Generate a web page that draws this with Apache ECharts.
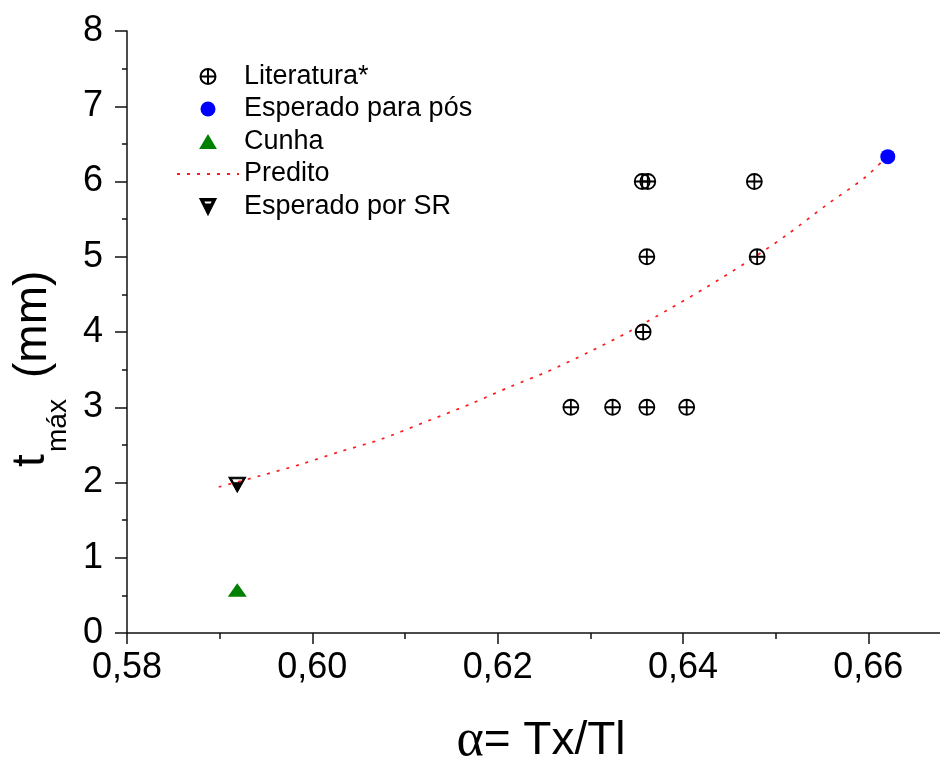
<!DOCTYPE html>
<html><head><meta charset="utf-8">
<script src="https://cdn.jsdelivr.net/npm/echarts@6/dist/echarts.min.js"></script>
<style>html,body{margin:0;padding:0;background:#fff}#c{width:940px;height:760px}</style>
</head><body><div id="c"></div>
<script>
// ---- data ----
const xTickValues = [0.58, 0.60, 0.62, 0.64, 0.66];
const xTickLabels = ['0,58', '0,60', '0,62', '0,64', '0,66'];
const yTickLabels = ['0', '1', '2', '3', '4', '5', '6', '7', '8'];

const literaturaX = [0.6356, 0.6362, 0.6477, 0.6361, 0.6480, 0.6357, 0.6279, 0.6324, 0.6361, 0.6404];
const literaturaY = [6, 6, 6, 5, 5, 4, 3, 3, 3, 3];

const posX = [0.6621];
const posY = [6.33];

const cunhaX = [0.5919];
const cunhaY = [0.57];

const preditoX = [0.5899, 0.5944, 0.5987, 0.6030, 0.6073, 0.6125, 0.6170, 0.6213, 0.6253, 0.6298, 0.6341, 0.6383, 0.6426, 0.6469, 0.6512, 0.6555, 0.6597, 0.6620];
const preditoY = [1.94, 2.09, 2.24, 2.41, 2.57, 2.82, 3.04, 3.27, 3.47, 3.73, 4.00, 4.29, 4.60, 4.93, 5.29, 5.69, 6.06, 6.33];

const srX = [0.5919];
const srY = [1.97];

const seriesNames = ['Literatura*', 'Esperado para pós', 'Cunha', 'Predito', 'Esperado por SR'];

// ---- helpers ----
const zip = (xs, ys) => xs.map((x, i) => [x, ys[i]]);
const FONT = '"Liberation Sans", Arial, sans-serif';
const crossCircle = 'path://M-1,0A1,1,0,1,1,1,0A1,1,0,1,1,-1,0ZM-1,0L1,0M0,-1L0,1';
const halfDownTri = 'path://M0,0L10,0L5,10ZM1.5,1.0L2.8,3.7L7.2,3.7L8.5,1.0Z';
const upTri = 'path://M9.5,0L19,16L0,16Z';

const chart = echarts.init(document.getElementById('c'), null, {renderer: 'canvas'});
chart.setOption({
  animation: false,
  backgroundColor: '#ffffff',
  grid: {left: 127, top: 31, bottom: 127, right: -21, containLabel: false, outerBoundsMode: 'none'},
  xAxis: {
    type: 'value', min: 0.58, max: 0.67, interval: 0.02,
    axisLine: {show: true, onZero: false, lineStyle: {color: '#111', width: 1.5}},
    axisTick: {show: true, inside: false, length: 11, lineStyle: {color: '#111', width: 1.5}},
    minorTick: {show: true, splitNumber: 2, length: 6, lineStyle: {color: '#111', width: 1.5}},
    splitLine: {show: false},
    axisLabel: {
      margin: 17, color: '#000', fontSize: 36, fontFamily: FONT,
      formatter: v => { const i = xTickValues.findIndex(t => Math.abs(t - v) < 1e-6); return i >= 0 ? xTickLabels[i] : ''; }
    },
    name: '{a|α}{b|= Tx/Tl}',
    nameLocation: 'middle', nameGap: 82,
    nameTextStyle: {
      padding: [0, 6, 0, 0],
      rich: {
        a: {fontFamily: '"Liberation Serif", serif', fontSize: 52, color: '#000'},
        b: {fontFamily: FONT, fontSize: 46, color: '#000'}
      }
    }
  },
  yAxis: {
    type: 'value', min: 0, max: 8, interval: 1,
    axisLine: {show: true, onZero: false, lineStyle: {color: '#111', width: 1.5}},
    axisTick: {show: true, inside: false, length: 12, lineStyle: {color: '#111', width: 1.5}},
    minorTick: {show: true, splitNumber: 2, length: 5, lineStyle: {color: '#111', width: 1.5}},
    splitLine: {show: false},
    axisLabel: {
      margin: 24, color: '#000', fontSize: 36, fontFamily: FONT,
      formatter: v => yTickLabels[Math.round(v)] !== undefined && Math.abs(v - Math.round(v)) < 1e-6 ? yTickLabels[Math.round(v)] : ''
    }
  },
  legend: {
    orient: 'vertical', left: 171, top: 58,
    itemWidth: 62, itemHeight: 15, itemGap: 5.5, symbolKeepAspect: true,
    data: [
      {name: seriesNames[0]},
      {name: seriesNames[1]},
      {name: seriesNames[2], icon: upTri, itemStyle: {color: '#008000', opacity: 1}},
      {name: seriesNames[3], itemStyle: {opacity: 0}},
      {name: seriesNames[4]}
    ],
    textStyle: {fontFamily: FONT, fontSize: 27, color: '#000', lineHeight: 26}
  },
  graphic: [
    {type: 'text', x: 31, y: 467, rotation: Math.PI / 2,
     style: {text: 't', font: '46px "Liberation Sans", Arial, sans-serif', fill: '#000', align: 'left', verticalAlign: 'middle'}},
    {type: 'text', x: 58, y: 452, rotation: Math.PI / 2,
     style: {text: 'máx', font: '28px "Liberation Sans", Arial, sans-serif', fill: '#000', align: 'left', verticalAlign: 'middle'}},
    {type: 'text', x: 33, y: 378, rotation: Math.PI / 2,
     style: {text: '(mm)', font: '46px "Liberation Sans", Arial, sans-serif', fill: '#000', align: 'left', verticalAlign: 'middle'}}
  ],
  series: [
    {
      name: seriesNames[0], type: 'scatter', z: 5,
      data: zip(literaturaX, literaturaY),
      symbol: crossCircle, symbolSize: 15, symbolKeepAspect: true,
      itemStyle: {color: 'rgba(0,0,0,0)', borderColor: '#000', borderWidth: 1.8, opacity: 1}
    },
    {
      name: seriesNames[1], type: 'scatter', z: 5,
      data: zip(posX, posY),
      symbol: 'circle', symbolSize: 15,
      itemStyle: {color: '#0000ff', opacity: 1}
    },
    {
      name: seriesNames[2], type: 'scatter', z: 5,
      data: zip(cunhaX, cunhaY),
      symbol: upTri, symbolSize: [19, 16], symbolKeepAspect: true,
      itemStyle: {color: '#008000', opacity: 1}
    },
    {
      name: seriesNames[3], type: 'line', z: 2,
      data: zip(preditoX, preditoY),
      symbol: 'none', showSymbol: false, smooth: 0.3,
      lineStyle: {color: '#ff1a1a', width: 1.7, type: [3, 7], opacity: 1},
      itemStyle: {color: '#ff1a1a'}
    },
    {
      name: seriesNames[4], type: 'scatter', z: 5,
      data: zip(srX, srY),
      symbol: halfDownTri, symbolSize: [17, 15], symbolKeepAspect: true,
      itemStyle: {color: '#000', borderColor: '#000', borderWidth: 1, opacity: 1}
    }
  ]
});
</script>
</body></html>
